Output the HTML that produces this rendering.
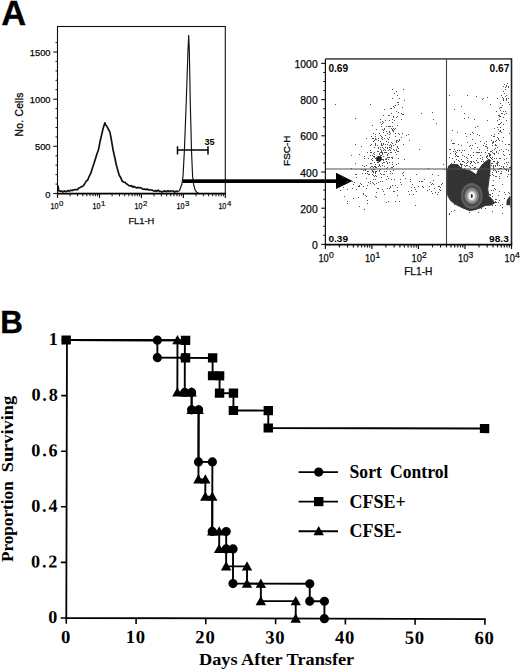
<!DOCTYPE html>
<html><head><meta charset="utf-8"><title>Figure</title>
<style>html,body{margin:0;padding:0;background:#fff;}body{width:520px;height:670px;overflow:hidden;font-family:"Liberation Sans",sans-serif;}svg{display:block;}</style></head>
<body>
<svg width="520" height="670" viewBox="0 0 520 670">
<rect width="520" height="670" fill="#fff"/>
<text x="1.3" y="25" font-family="Liberation Sans, sans-serif" font-weight="bold" font-size="34.5" stroke="#000" stroke-width="0.3">A</text>
<text x="0.2" y="332.9" font-family="Liberation Sans, sans-serif" font-weight="bold" font-size="31" textLength="22.6" lengthAdjust="spacingAndGlyphs" stroke="#000" stroke-width="0.4">B</text>
<rect x="57.5" y="26.5" width="167.8" height="167.0" fill="none" stroke="#111" stroke-width="1.1"/>
<path d="M57.0 193.7H225.8" stroke="#000" stroke-width="1.7" fill="none"/>
<line x1="53.3" y1="193.5" x2="57.5" y2="193.5" stroke="#111" stroke-width="1.1"/>
<text x="50.5" y="198.3" text-anchor="end" font-family="Liberation Sans, sans-serif" font-size="9.3" stroke="#111" stroke-width="0.25">0</text>
<line x1="53.3" y1="146.3" x2="57.5" y2="146.3" stroke="#111" stroke-width="1.1"/>
<text x="50.5" y="150.4" text-anchor="end" font-family="Liberation Sans, sans-serif" font-size="9.3" stroke="#111" stroke-width="0.25">500</text>
<line x1="53.3" y1="99.2" x2="57.5" y2="99.2" stroke="#111" stroke-width="1.1"/>
<text x="50.5" y="103.3" text-anchor="end" font-family="Liberation Sans, sans-serif" font-size="9.3" stroke="#111" stroke-width="0.25">1000</text>
<line x1="53.3" y1="52.0" x2="57.5" y2="52.0" stroke="#111" stroke-width="1.1"/>
<text x="50.5" y="56.1" text-anchor="end" font-family="Liberation Sans, sans-serif" font-size="9.3" stroke="#111" stroke-width="0.25">1500</text>
<line x1="55.5" y1="184.1" x2="57.5" y2="184.1" stroke="#111" stroke-width="1.0"/>
<line x1="55.5" y1="174.6" x2="57.5" y2="174.6" stroke="#111" stroke-width="1.0"/>
<line x1="55.5" y1="165.2" x2="57.5" y2="165.2" stroke="#111" stroke-width="1.0"/>
<line x1="55.5" y1="155.8" x2="57.5" y2="155.8" stroke="#111" stroke-width="1.0"/>
<line x1="55.5" y1="136.9" x2="57.5" y2="136.9" stroke="#111" stroke-width="1.0"/>
<line x1="55.5" y1="127.5" x2="57.5" y2="127.5" stroke="#111" stroke-width="1.0"/>
<line x1="55.5" y1="118.0" x2="57.5" y2="118.0" stroke="#111" stroke-width="1.0"/>
<line x1="55.5" y1="108.6" x2="57.5" y2="108.6" stroke="#111" stroke-width="1.0"/>
<line x1="55.5" y1="89.7" x2="57.5" y2="89.7" stroke="#111" stroke-width="1.0"/>
<line x1="55.5" y1="80.3" x2="57.5" y2="80.3" stroke="#111" stroke-width="1.0"/>
<line x1="55.5" y1="70.9" x2="57.5" y2="70.9" stroke="#111" stroke-width="1.0"/>
<line x1="55.5" y1="61.4" x2="57.5" y2="61.4" stroke="#111" stroke-width="1.0"/>
<line x1="55.5" y1="42.6" x2="57.5" y2="42.6" stroke="#111" stroke-width="1.0"/>
<line x1="57.5" y1="193.5" x2="57.5" y2="197.9" stroke="#111" stroke-width="1.2"/>
<text x="58.5" y="209.3" text-anchor="end" font-family="Liberation Sans, sans-serif" font-size="9.7" stroke="#111" stroke-width="0.25" textLength="7.9" lengthAdjust="spacingAndGlyphs">10</text>
<text x="59.1" y="206.1" font-family="Liberation Sans, sans-serif" font-size="7.9" stroke="#111" stroke-width="0.2">0</text>
<line x1="70.1" y1="193.5" x2="70.1" y2="196.3" stroke="#111" stroke-width="1.0"/>
<line x1="77.5" y1="193.5" x2="77.5" y2="196.3" stroke="#111" stroke-width="1.0"/>
<line x1="82.8" y1="193.5" x2="82.8" y2="196.3" stroke="#111" stroke-width="1.0"/>
<line x1="86.8" y1="193.5" x2="86.8" y2="196.3" stroke="#111" stroke-width="1.0"/>
<line x1="90.1" y1="193.5" x2="90.1" y2="196.3" stroke="#111" stroke-width="1.0"/>
<line x1="93.0" y1="193.5" x2="93.0" y2="196.3" stroke="#111" stroke-width="1.0"/>
<line x1="95.4" y1="193.5" x2="95.4" y2="196.3" stroke="#111" stroke-width="1.0"/>
<line x1="97.5" y1="193.5" x2="97.5" y2="196.3" stroke="#111" stroke-width="1.0"/>
<line x1="99.5" y1="193.5" x2="99.5" y2="197.9" stroke="#111" stroke-width="1.2"/>
<text x="100.5" y="209.3" text-anchor="end" font-family="Liberation Sans, sans-serif" font-size="9.7" stroke="#111" stroke-width="0.25" textLength="7.9" lengthAdjust="spacingAndGlyphs">10</text>
<text x="101.0" y="206.1" font-family="Liberation Sans, sans-serif" font-size="7.9" stroke="#111" stroke-width="0.2">1</text>
<line x1="112.1" y1="193.5" x2="112.1" y2="196.3" stroke="#111" stroke-width="1.0"/>
<line x1="119.5" y1="193.5" x2="119.5" y2="196.3" stroke="#111" stroke-width="1.0"/>
<line x1="124.7" y1="193.5" x2="124.7" y2="196.3" stroke="#111" stroke-width="1.0"/>
<line x1="128.8" y1="193.5" x2="128.8" y2="196.3" stroke="#111" stroke-width="1.0"/>
<line x1="132.1" y1="193.5" x2="132.1" y2="196.3" stroke="#111" stroke-width="1.0"/>
<line x1="134.9" y1="193.5" x2="134.9" y2="196.3" stroke="#111" stroke-width="1.0"/>
<line x1="137.3" y1="193.5" x2="137.3" y2="196.3" stroke="#111" stroke-width="1.0"/>
<line x1="139.5" y1="193.5" x2="139.5" y2="196.3" stroke="#111" stroke-width="1.0"/>
<line x1="141.4" y1="193.5" x2="141.4" y2="197.9" stroke="#111" stroke-width="1.2"/>
<text x="142.4" y="209.3" text-anchor="end" font-family="Liberation Sans, sans-serif" font-size="9.7" stroke="#111" stroke-width="0.25" textLength="7.9" lengthAdjust="spacingAndGlyphs">10</text>
<text x="143.0" y="206.1" font-family="Liberation Sans, sans-serif" font-size="7.9" stroke="#111" stroke-width="0.2">2</text>
<line x1="154.0" y1="193.5" x2="154.0" y2="196.3" stroke="#111" stroke-width="1.0"/>
<line x1="161.4" y1="193.5" x2="161.4" y2="196.3" stroke="#111" stroke-width="1.0"/>
<line x1="166.7" y1="193.5" x2="166.7" y2="196.3" stroke="#111" stroke-width="1.0"/>
<line x1="170.7" y1="193.5" x2="170.7" y2="196.3" stroke="#111" stroke-width="1.0"/>
<line x1="174.0" y1="193.5" x2="174.0" y2="196.3" stroke="#111" stroke-width="1.0"/>
<line x1="176.9" y1="193.5" x2="176.9" y2="196.3" stroke="#111" stroke-width="1.0"/>
<line x1="179.3" y1="193.5" x2="179.3" y2="196.3" stroke="#111" stroke-width="1.0"/>
<line x1="181.4" y1="193.5" x2="181.4" y2="196.3" stroke="#111" stroke-width="1.0"/>
<line x1="183.4" y1="193.5" x2="183.4" y2="197.9" stroke="#111" stroke-width="1.2"/>
<text x="184.4" y="209.3" text-anchor="end" font-family="Liberation Sans, sans-serif" font-size="9.7" stroke="#111" stroke-width="0.25" textLength="7.9" lengthAdjust="spacingAndGlyphs">10</text>
<text x="185.0" y="206.1" font-family="Liberation Sans, sans-serif" font-size="7.9" stroke="#111" stroke-width="0.2">3</text>
<line x1="196.0" y1="193.5" x2="196.0" y2="196.3" stroke="#111" stroke-width="1.0"/>
<line x1="203.4" y1="193.5" x2="203.4" y2="196.3" stroke="#111" stroke-width="1.0"/>
<line x1="208.6" y1="193.5" x2="208.6" y2="196.3" stroke="#111" stroke-width="1.0"/>
<line x1="212.7" y1="193.5" x2="212.7" y2="196.3" stroke="#111" stroke-width="1.0"/>
<line x1="216.0" y1="193.5" x2="216.0" y2="196.3" stroke="#111" stroke-width="1.0"/>
<line x1="218.8" y1="193.5" x2="218.8" y2="196.3" stroke="#111" stroke-width="1.0"/>
<line x1="221.2" y1="193.5" x2="221.2" y2="196.3" stroke="#111" stroke-width="1.0"/>
<line x1="223.4" y1="193.5" x2="223.4" y2="196.3" stroke="#111" stroke-width="1.0"/>
<line x1="225.3" y1="193.5" x2="225.3" y2="197.9" stroke="#111" stroke-width="1.2"/>
<text x="226.3" y="209.3" text-anchor="end" font-family="Liberation Sans, sans-serif" font-size="9.7" stroke="#111" stroke-width="0.25" textLength="7.9" lengthAdjust="spacingAndGlyphs">10</text>
<text x="226.9" y="206.1" font-family="Liberation Sans, sans-serif" font-size="7.9" stroke="#111" stroke-width="0.2">4</text>
<text x="141.3" y="223.9" text-anchor="middle" font-family="Liberation Sans, sans-serif" font-size="9.3" stroke="#111" stroke-width="0.25">FL1-H</text>
<text transform="translate(23.1,136.5) rotate(-90)" font-family="Liberation Sans, sans-serif" font-size="10.3" stroke="#111" stroke-width="0.3" textLength="43.9" lengthAdjust="spacing">No. Cells</text>
<polyline fill="none" stroke="#111" stroke-width="1.7" stroke-linejoin="round" points="58.0,185.5 58.8,191.0 60.4,191.1 62.0,191.2 63.2,191.9 64.4,190.9 65.6,191.6 66.8,191.2 68.0,190.6 69.4,191.1 70.8,190.2 72.2,190.6 73.6,189.8 75.0,189.6 76.2,189.6 77.5,189.7 78.8,188.0 80.0,187.6 81.5,186.8 83.1,185.9 84.6,183.9 86.1,181.4 87.7,180.0 89.2,176.3 90.7,173.4 92.3,168.4 93.8,164.0 95.4,158.9 96.9,154.0 98.5,149.7 100.0,141.8 101.5,135.5 103.0,128.7 104.9,122.8 106.0,125.1 107.7,127.8 110.0,132.3 111.5,140.6 113.0,149.5 114.6,156.8 116.2,164.3 117.7,170.1 119.2,175.3 120.8,177.8 122.3,181.3 123.7,182.1 125.0,182.3 126.3,183.8 127.7,184.6 129.0,185.7 130.3,185.9 131.6,185.7 132.8,187.2 134.1,186.3 135.4,187.3 136.7,188.0 138.0,187.3 139.3,188.0 140.7,187.5 142.0,188.7 143.3,189.1 144.6,189.0 145.8,189.7 147.1,189.0 148.3,189.8 149.6,189.8 150.8,190.0 152.0,190.0 153.3,190.8 154.5,191.1 155.8,190.6 157.0,191.1 158.2,190.2 159.4,191.3 160.7,191.3 161.9,191.9 163.1,191.7 164.3,190.9 165.6,191.2 166.8,191.7 168.0,190.7 169.3,191.5 170.7,191.1 172.0,191.0 173.3,191.0 174.7,192.2 176.0,191.2 178.0,191.6"/>
<polyline fill="none" stroke="#111" stroke-width="1.15" stroke-linejoin="round" points="178.0,191.6 179.5,190.5 181.8,184.3 183.0,176.5 184.4,150.4 186.2,103.3 188.0,50.0 188.7,35.4 189.3,50.0 190.3,103.3 191.5,150.4 192.6,176.5 193.6,184.3 195.2,190.2 197.0,192.6 198.5,193.2"/>
<path d="M177.5 149.9H208M177.5 146.2V154.6M208 146.2V154.6" stroke="#000" stroke-width="1.5" fill="none"/>
<text x="204.4" y="145.1" font-family="Liberation Sans, sans-serif" font-weight="bold" font-size="9.1">35</text>
<rect x="182.6" y="179.3" width="155" height="3.7" fill="#000"/>
<polygon points="336,172.8 352.6,180.9 336,189" fill="#000"/>
<path d="M390 152h1v1h-1zM376 160h1v1h-1zM394 120h1v1h-1zM356 189h1v1h-1zM371 166h1v1h-1zM392 130h1v1h-1zM347 203h1v1h-1zM383 162h1v1h-1zM387 154h1v1h-1zM393 116h1v1h-1zM382 152h1v1h-1zM392 129h1v1h-1zM396 91h1v1h-1zM374 140h1v1h-1zM383 122h1v1h-1zM379 171h1v1h-1zM399 98h1v1h-1zM386 126h1v1h-1zM377 159h1v1h-1zM389 145h1v1h-1zM383 160h1v1h-1zM375 173h1v1h-1zM384 152h1v1h-1zM377 162h1v1h-1zM389 157h1v1h-1zM392 126h1v1h-1zM371 169h1v1h-1zM390 173h1v1h-1zM382 189h1v1h-1zM377 151h1v1h-1zM388 153h1v1h-1zM375 167h1v1h-1zM367 203h1v1h-1zM391 157h1v1h-1zM391 142h1v1h-1zM386 179h1v1h-1zM398 158h1v1h-1zM381 145h1v1h-1zM383 132h1v1h-1zM379 164h1v1h-1zM392 119h1v1h-1zM391 128h1v1h-1zM388 201h1v1h-1zM389 147h1v1h-1zM395 105h1v1h-1zM379 133h1v1h-1zM384 149h1v1h-1zM379 153h1v1h-1zM365 173h1v1h-1zM392 89h1v1h-1zM402 173h1v1h-1zM378 147h1v1h-1zM378 166h1v1h-1zM379 170h1v1h-1zM387 188h1v1h-1zM380 122h1v1h-1zM381 157h1v1h-1zM373 141h1v1h-1zM398 102h1v1h-1zM391 108h1v1h-1zM382 154h1v1h-1zM395 128h1v1h-1zM393 130h1v1h-1zM363 193h1v1h-1zM383 159h1v1h-1zM390 186h1v1h-1zM374 157h1v1h-1zM343 187h1v1h-1zM378 138h1v1h-1zM384 138h1v1h-1zM372 158h1v1h-1zM397 125h1v1h-1zM397 140h1v1h-1zM393 116h1v1h-1zM373 172h1v1h-1zM368 171h1v1h-1zM380 141h1v1h-1zM386 159h1v1h-1zM373 138h1v1h-1zM386 161h1v1h-1zM395 136h1v1h-1zM375 136h1v1h-1zM393 145h1v1h-1zM380 155h1v1h-1zM382 154h1v1h-1zM371 136h1v1h-1zM371 159h1v1h-1zM371 144h1v1h-1zM383 148h1v1h-1zM378 140h1v1h-1zM381 144h1v1h-1zM353 198h1v1h-1zM383 150h1v1h-1zM394 93h1v1h-1zM366 165h1v1h-1zM378 151h1v1h-1zM381 124h1v1h-1zM397 146h1v1h-1zM401 137h1v1h-1zM394 107h1v1h-1zM390 187h1v1h-1zM389 134h1v1h-1zM374 162h1v1h-1zM380 156h1v1h-1zM370 163h1v1h-1zM396 111h1v1h-1zM381 143h1v1h-1zM401 113h1v1h-1zM375 196h1v1h-1zM391 148h1v1h-1zM355 144h1v1h-1zM382 159h1v1h-1zM375 138h1v1h-1zM374 166h1v1h-1zM370 167h1v1h-1zM383 191h1v1h-1zM378 156h1v1h-1zM374 154h1v1h-1zM367 185h1v1h-1zM398 151h1v1h-1zM387 148h1v1h-1zM381 150h1v1h-1zM380 160h1v1h-1zM393 131h1v1h-1zM392 173h1v1h-1zM389 126h1v1h-1zM387 167h1v1h-1zM385 135h1v1h-1zM398 141h1v1h-1zM373 167h1v1h-1zM392 157h1v1h-1zM387 138h1v1h-1zM386 141h1v1h-1zM390 144h1v1h-1zM382 129h1v1h-1zM380 181h1v1h-1zM392 143h1v1h-1zM374 176h1v1h-1zM379 165h1v1h-1zM381 159h1v1h-1zM368 174h1v1h-1zM365 195h1v1h-1zM376 183h1v1h-1zM383 174h1v1h-1zM396 154h1v1h-1zM374 156h1v1h-1zM361 146h1v1h-1zM392 162h1v1h-1zM360 183h1v1h-1zM382 165h1v1h-1zM376 129h1v1h-1zM390 150h1v1h-1zM389 149h1v1h-1zM388 115h1v1h-1zM386 131h1v1h-1zM381 159h1v1h-1zM378 160h1v1h-1zM389 131h1v1h-1zM389 162h1v1h-1zM393 106h1v1h-1zM387 133h1v1h-1zM368 174h1v1h-1zM373 156h1v1h-1zM404 159h1v1h-1zM380 135h1v1h-1zM391 146h1v1h-1zM382 147h1v1h-1zM373 153h1v1h-1zM367 173h1v1h-1zM380 152h1v1h-1zM381 152h1v1h-1zM375 164h1v1h-1zM388 157h1v1h-1zM381 155h1v1h-1zM352 188h1v1h-1zM375 144h1v1h-1zM397 116h1v1h-1zM375 134h1v1h-1zM388 178h1v1h-1zM380 147h1v1h-1zM352 181h1v1h-1zM382 121h1v1h-1zM375 158h1v1h-1zM389 120h1v1h-1zM356 177h1v1h-1zM365 169h1v1h-1zM361 184h1v1h-1zM377 145h1v1h-1zM378 166h1v1h-1zM387 144h1v1h-1zM365 170h1v1h-1zM381 126h1v1h-1zM375 139h1v1h-1zM367 200h1v1h-1zM370 152h1v1h-1zM391 113h1v1h-1zM376 192h1v1h-1zM385 152h1v1h-1zM398 148h1v1h-1zM392 164h1v1h-1zM370 183h1v1h-1zM394 129h1v1h-1zM373 133h1v1h-1zM382 123h1v1h-1zM379 165h1v1h-1zM397 151h1v1h-1zM396 140h1v1h-1zM378 162h1v1h-1zM397 147h1v1h-1zM372 138h1v1h-1zM395 144h1v1h-1zM392 122h1v1h-1zM384 194h1v1h-1zM403 175h1v1h-1zM379 157h1v1h-1zM398 104h1v1h-1zM370 181h1v1h-1zM388 150h1v1h-1zM374 169h1v1h-1zM382 139h1v1h-1zM396 142h1v1h-1zM347 189h1v1h-1zM380 149h1v1h-1zM395 133h1v1h-1zM387 133h1v1h-1zM371 152h1v1h-1zM379 154h1v1h-1zM372 166h1v1h-1zM375 172h1v1h-1zM381 151h1v1h-1zM404 100h1v1h-1zM363 194h1v1h-1zM397 95h1v1h-1zM342 177h1v1h-1zM383 130h1v1h-1zM390 133h1v1h-1zM379 164h1v1h-1zM371 163h1v1h-1zM372 171h1v1h-1zM393 149h1v1h-1zM387 162h1v1h-1zM359 206h1v1h-1zM364 166h1v1h-1zM380 119h1v1h-1zM399 139h1v1h-1zM362 165h1v1h-1zM372 166h1v1h-1zM406 135h1v1h-1zM384 171h1v1h-1zM369 174h1v1h-1zM373 171h1v1h-1zM396 149h1v1h-1zM396 141h1v1h-1zM388 139h1v1h-1zM384 162h1v1h-1zM366 178h1v1h-1zM398 163h1v1h-1zM372 182h1v1h-1zM382 163h1v1h-1zM380 173h1v1h-1zM380 169h1v1h-1zM394 150h1v1h-1zM359 186h1v1h-1zM393 128h1v1h-1zM388 126h1v1h-1zM385 147h1v1h-1zM409 140h1v1h-1zM384 174h1v1h-1zM383 115h1v1h-1zM387 157h1v1h-1zM391 152h1v1h-1zM403 89h1v1h-1zM353 184h1v1h-1zM379 159h1v1h-1zM366 138h1v1h-1zM393 117h1v1h-1zM373 179h1v1h-1zM358 197h1v1h-1zM344 196h1v1h-1zM386 152h1v1h-1zM386 171h1v1h-1zM372 125h1v1h-1zM370 145h1v1h-1zM370 155h1v1h-1zM382 145h1v1h-1zM373 156h1v1h-1zM363 186h1v1h-1zM387 147h1v1h-1zM395 152h1v1h-1zM378 148h1v1h-1zM378 182h1v1h-1zM384 129h1v1h-1zM392 158h1v1h-1zM375 175h1v1h-1zM364 169h1v1h-1zM390 108h1v1h-1zM381 155h1v1h-1zM375 145h1v1h-1zM373 183h1v1h-1zM376 139h1v1h-1zM396 150h1v1h-1zM373 169h1v1h-1zM376 176h1v1h-1zM397 116h1v1h-1zM392 167h1v1h-1zM370 150h1v1h-1zM403 172h1v1h-1zM402 133h1v1h-1zM387 154h1v1h-1zM373 153h1v1h-1zM368 182h1v1h-1zM385 159h1v1h-1zM396 117h1v1h-1zM375 166h1v1h-1zM389 137h1v1h-1zM376 167h1v1h-1zM379 161h1v1h-1zM402 107h1v1h-1zM359 185h1v1h-1zM378 151h1v1h-1zM391 167h1v1h-1zM399 134h1v1h-1zM372 160h1v1h-1zM372 170h1v1h-1zM384 166h1v1h-1zM367 152h1v1h-1zM386 202h1v1h-1zM388 159h1v1h-1zM356 174h1v1h-1zM385 144h1v1h-1zM390 126h1v1h-1zM373 167h1v1h-1zM403 114h1v1h-1zM375 179h1v1h-1zM361 169h1v1h-1zM380 159h1v1h-1zM373 175h1v1h-1zM376 197h1v1h-1zM382 137h1v1h-1zM381 136h1v1h-1zM374 147h1v1h-1zM382 152h1v1h-1zM359 154h1v1h-1zM384 109h1v1h-1zM376 171h1v1h-1zM387 163h1v1h-1zM383 144h1v1h-1zM347 181h1v1h-1zM387 155h1v1h-1zM366 196h1v1h-1zM397 102h1v1h-1zM389 115h1v1h-1zM362 173h1v1h-1zM377 188h1v1h-1zM379 161h1v1h-1zM389 132h1v1h-1zM372 155h1v1h-1zM403 144h1v1h-1zM391 145h1v1h-1zM385 150h1v1h-1zM364 158h1v1h-1zM374 152h1v1h-1zM368 158h1v1h-1zM367 171h1v1h-1zM398 112h1v1h-1zM401 119h1v1h-1zM366 188h1v1h-1zM358 186h1v1h-1zM374 184h1v1h-1zM375 171h1v1h-1zM386 168h1v1h-1zM384 128h1v1h-1zM387 176h1v1h-1zM383 150h1v1h-1zM347 201h1v1h-1zM381 177h1v1h-1zM355 174h1v1h-1zM378 159h1v1h-1zM387 148h1v1h-1zM400 179h1v1h-1zM392 98h1v1h-1zM402 114h1v1h-1zM389 132h1v1h-1zM355 163h1v1h-1zM382 181h1v1h-1zM381 138h1v1h-1zM388 142h1v1h-1zM386 158h1v1h-1zM385 120h1v1h-1zM382 153h1v1h-1zM398 133h1v1h-1zM386 161h1v1h-1zM393 166h1v1h-1zM383 143h1v1h-1zM381 174h1v1h-1zM389 115h1v1h-1zM380 166h1v1h-1zM375 143h1v1h-1zM390 147h1v1h-1zM372 174h1v1h-1zM419 181h1v1h-1zM435 192h1v1h-1zM442 183h1v1h-1zM427 190h1v1h-1zM399 201h1v1h-1zM411 187h1v1h-1zM432 174h1v1h-1zM413 194h1v1h-1zM397 195h1v1h-1zM423 187h1v1h-1zM437 194h1v1h-1zM408 191h1v1h-1zM415 189h1v1h-1zM416 191h1v1h-1zM438 192h1v1h-1zM431 191h1v1h-1zM440 187h1v1h-1zM439 189h1v1h-1zM441 184h1v1h-1zM438 186h1v1h-1zM409 194h1v1h-1zM433 180h1v1h-1zM397 187h1v1h-1zM410 181h1v1h-1zM434 188h1v1h-1zM400 182h1v1h-1zM410 179h1v1h-1zM395 185h1v1h-1zM401 184h1v1h-1zM390 171h1v1h-1zM418 186h1v1h-1zM433 184h1v1h-1zM394 179h1v1h-1zM422 181h1v1h-1zM405 178h1v1h-1zM411 190h1v1h-1zM424 179h1v1h-1zM389 188h1v1h-1zM421 181h1v1h-1zM429 186h1v1h-1zM430 182h1v1h-1zM414 187h1v1h-1zM394 191h1v1h-1zM393 191h1v1h-1zM412 184h1v1h-1zM422 186h1v1h-1zM392 185h1v1h-1zM416 174h1v1h-1zM391 179h1v1h-1zM439 186h1v1h-1zM395 201h1v1h-1zM428 168h1v1h-1zM432 193h1v1h-1zM415 205h1v1h-1zM440 190h1v1h-1zM431 184h1v1h-1zM438 192h1v1h-1zM429 189h1v1h-1zM397 190h1v1h-1zM432 183h1v1h-1zM351 155h1v1h-1zM436 123h1v1h-1zM364 156h1v1h-1zM370 104h1v1h-1zM355 118h1v1h-1zM438 175h1v1h-1zM433 119h1v1h-1zM421 113h1v1h-1zM393 170h1v1h-1zM375 196h1v1h-1zM396 164h1v1h-1zM432 112h1v1h-1zM444 169h1v1h-1zM378 188h1v1h-1zM364 209h1v1h-1zM399 140h1v1h-1zM419 149h1v1h-1zM354 182h1v1h-1zM340 190h1v1h-1zM363 170h1v1h-1zM443 164h1v1h-1zM408 134h1v1h-1zM335 104h1v1h-1zM351 168h1v1h-1zM383 156h1v1h-1zM504 163h1v1h-1zM488 163h1v1h-1zM449 157h1v1h-1zM455 170h1v1h-1zM470 167h1v1h-1zM485 152h1v1h-1zM461 159h1v1h-1zM456 159h1v1h-1zM506 170h1v1h-1zM454 162h1v1h-1zM488 153h1v1h-1zM473 152h1v1h-1zM464 150h1v1h-1zM483 169h1v1h-1zM470 161h1v1h-1zM506 158h1v1h-1zM493 170h1v1h-1zM451 140h1v1h-1zM481 161h1v1h-1zM452 164h1v1h-1zM496 152h1v1h-1zM506 169h1v1h-1zM457 164h1v1h-1zM479 152h1v1h-1zM488 167h1v1h-1zM467 162h1v1h-1zM467 142h1v1h-1zM497 161h1v1h-1zM492 143h1v1h-1zM494 169h1v1h-1zM477 169h1v1h-1zM462 155h1v1h-1zM455 170h1v1h-1zM469 166h1v1h-1zM494 161h1v1h-1zM492 145h1v1h-1zM464 156h1v1h-1zM497 165h1v1h-1zM480 168h1v1h-1zM508 150h1v1h-1zM461 168h1v1h-1zM464 168h1v1h-1zM463 169h1v1h-1zM494 136h1v1h-1zM468 161h1v1h-1zM463 161h1v1h-1zM504 155h1v1h-1zM489 154h1v1h-1zM509 144h1v1h-1zM491 165h1v1h-1zM501 149h1v1h-1zM483 161h1v1h-1zM467 165h1v1h-1zM453 151h1v1h-1zM504 168h1v1h-1zM455 167h1v1h-1zM506 166h1v1h-1zM450 164h1v1h-1zM451 163h1v1h-1zM491 151h1v1h-1zM494 153h1v1h-1zM471 162h1v1h-1zM499 158h1v1h-1zM452 143h1v1h-1zM502 141h1v1h-1zM455 153h1v1h-1zM461 167h1v1h-1zM501 168h1v1h-1zM498 153h1v1h-1zM487 150h1v1h-1zM466 165h1v1h-1zM495 166h1v1h-1zM461 164h1v1h-1zM449 157h1v1h-1zM464 165h1v1h-1zM471 148h1v1h-1zM468 154h1v1h-1zM501 166h1v1h-1zM486 156h1v1h-1zM475 167h1v1h-1zM496 158h1v1h-1zM481 152h1v1h-1zM461 166h1v1h-1zM499 165h1v1h-1zM459 161h1v1h-1zM495 170h1v1h-1zM509 154h1v1h-1zM478 170h1v1h-1zM497 163h1v1h-1zM470 155h1v1h-1zM500 168h1v1h-1zM466 136h1v1h-1zM461 165h1v1h-1zM455 154h1v1h-1zM487 148h1v1h-1zM491 158h1v1h-1zM497 161h1v1h-1zM473 161h1v1h-1zM472 165h1v1h-1zM503 166h1v1h-1zM450 167h1v1h-1zM504 159h1v1h-1zM479 149h1v1h-1zM462 150h1v1h-1zM477 147h1v1h-1zM495 165h1v1h-1zM488 163h1v1h-1zM458 160h1v1h-1zM500 158h1v1h-1zM459 150h1v1h-1zM475 167h1v1h-1zM456 152h1v1h-1zM477 162h1v1h-1zM460 163h1v1h-1zM467 162h1v1h-1zM458 144h1v1h-1zM458 170h1v1h-1zM480 158h1v1h-1zM458 166h1v1h-1zM508 162h1v1h-1zM493 141h1v1h-1zM454 149h1v1h-1zM472 145h1v1h-1zM493 167h1v1h-1zM475 163h1v1h-1zM455 151h1v1h-1zM461 167h1v1h-1zM473 168h1v1h-1zM497 164h1v1h-1zM487 155h1v1h-1zM477 158h1v1h-1zM473 155h1v1h-1zM494 158h1v1h-1zM484 162h1v1h-1zM494 161h1v1h-1zM493 165h1v1h-1zM503 167h1v1h-1zM501 149h1v1h-1zM490 160h1v1h-1zM467 158h1v1h-1zM487 158h1v1h-1zM497 162h1v1h-1zM492 163h1v1h-1zM474 162h1v1h-1zM476 160h1v1h-1zM490 160h1v1h-1zM506 162h1v1h-1zM496 151h1v1h-1zM472 132h1v1h-1zM450 168h1v1h-1zM482 157h1v1h-1zM506 149h1v1h-1zM480 155h1v1h-1zM482 159h1v1h-1zM492 150h1v1h-1zM499 168h1v1h-1zM480 141h1v1h-1zM461 152h1v1h-1zM490 151h1v1h-1zM456 155h1v1h-1zM509 167h1v1h-1zM465 166h1v1h-1zM473 155h1v1h-1zM474 169h1v1h-1zM491 163h1v1h-1zM462 161h1v1h-1zM494 154h1v1h-1zM462 164h1v1h-1zM498 162h1v1h-1zM456 164h1v1h-1zM496 163h1v1h-1zM477 152h1v1h-1zM483 165h1v1h-1zM470 134h1v1h-1zM488 159h1v1h-1zM477 147h1v1h-1zM466 163h1v1h-1zM500 168h1v1h-1zM470 163h1v1h-1zM471 161h1v1h-1zM464 162h1v1h-1zM448 166h1v1h-1zM493 168h1v1h-1zM467 160h1v1h-1zM478 152h1v1h-1zM489 161h1v1h-1zM470 145h1v1h-1zM452 158h1v1h-1zM499 150h1v1h-1zM457 156h1v1h-1zM500 168h1v1h-1zM449 168h1v1h-1zM507 164h1v1h-1zM454 161h1v1h-1zM457 168h1v1h-1zM469 146h1v1h-1zM457 150h1v1h-1zM458 156h1v1h-1zM503 151h1v1h-1zM489 155h1v1h-1zM503 154h1v1h-1zM500 110h1v1h-1zM491 135h1v1h-1zM494 128h1v1h-1zM503 137h1v1h-1zM464 113h1v1h-1zM457 132h1v1h-1zM452 130h1v1h-1zM457 132h1v1h-1zM479 135h1v1h-1zM501 95h1v1h-1zM500 130h1v1h-1zM483 145h1v1h-1zM500 123h1v1h-1zM474 167h1v1h-1zM453 143h1v1h-1zM487 97h1v1h-1zM486 146h1v1h-1zM506 120h1v1h-1zM509 133h1v1h-1zM478 162h1v1h-1zM450 149h1v1h-1zM487 120h1v1h-1zM501 122h1v1h-1zM477 134h1v1h-1zM496 111h1v1h-1zM475 127h1v1h-1zM482 157h1v1h-1zM466 157h1v1h-1zM473 133h1v1h-1zM465 133h1v1h-1zM508 144h1v1h-1zM497 120h1v1h-1zM468 117h1v1h-1zM484 143h1v1h-1zM497 98h1v1h-1zM493 161h1v1h-1zM482 99h1v1h-1zM467 95h1v1h-1zM460 164h1v1h-1zM486 144h1v1h-1zM497 163h1v1h-1zM486 141h1v1h-1zM487 147h1v1h-1zM485 146h1v1h-1zM461 145h1v1h-1zM476 152h1v1h-1zM454 109h1v1h-1zM450 153h1v1h-1zM505 144h1v1h-1zM471 157h1v1h-1zM497 137h1v1h-1zM464 118h1v1h-1zM474 119h1v1h-1zM475 143h1v1h-1zM506 99h1v1h-1zM483 98h1v1h-1zM455 156h1v1h-1zM484 164h1v1h-1zM476 96h1v1h-1zM472 139h1v1h-1zM506 169h1v1h-1zM477 126h1v1h-1zM454 143h1v1h-1zM461 106h1v1h-1zM449 95h1v1h-1zM490 104h1v1h-1zM508 102h1v1h-1zM502 105h1v1h-1zM449 149h1v1h-1zM495 141h1v1h-1zM489 156h1v1h-1zM503 100h1v1h-1zM500 103h1v1h-1zM489 153h1v1h-1zM498 124h1v1h-1zM505 87h1v1h-1zM509 104h1v1h-1zM492 159h1v1h-1zM505 96h1v1h-1zM490 154h1v1h-1zM497 147h1v1h-1zM504 93h1v1h-1zM499 131h1v1h-1zM499 115h1v1h-1zM494 149h1v1h-1zM503 98h1v1h-1zM505 111h1v1h-1zM497 127h1v1h-1zM508 86h1v1h-1zM503 99h1v1h-1zM490 155h1v1h-1zM504 84h1v1h-1zM494 134h1v1h-1zM506 113h1v1h-1zM502 113h1v1h-1zM493 136h1v1h-1zM500 131h1v1h-1zM500 107h1v1h-1zM502 97h1v1h-1zM498 138h1v1h-1zM500 127h1v1h-1zM504 114h1v1h-1zM486 157h1v1h-1zM506 95h1v1h-1zM498 115h1v1h-1zM498 139h1v1h-1zM501 107h1v1h-1zM505 89h1v1h-1zM503 117h1v1h-1zM506 98h1v1h-1zM508 87h1v1h-1zM493 142h1v1h-1zM499 124h1v1h-1zM495 144h1v1h-1zM508 98h1v1h-1zM503 124h1v1h-1zM506 100h1v1h-1zM492 142h1v1h-1zM503 91h1v1h-1zM499 119h1v1h-1zM495 145h1v1h-1zM496 145h1v1h-1zM501 132h1v1h-1zM500 116h1v1h-1zM495 148h1v1h-1zM492 157h1v1h-1zM492 152h1v1h-1zM503 111h1v1h-1zM501 113h1v1h-1zM498 133h1v1h-1zM490 157h1v1h-1zM507 83h1v1h-1zM500 116h1v1h-1zM496 140h1v1h-1zM503 86h1v1h-1zM506 100h1v1h-1zM491 140h1v1h-1zM490 157h1v1h-1zM493 153h1v1h-1zM487 156h1v1h-1zM499 124h1v1h-1zM506 86h1v1h-1zM502 113h1v1h-1zM503 129h1v1h-1zM499 140h1v1h-1zM499 116h1v1h-1zM499 108h1v1h-1zM498 129h1v1h-1zM506 85h1v1h-1zM510 174h1v1h-1zM490 175h1v1h-1zM496 202h1v1h-1zM508 199h1v1h-1zM490 197h1v1h-1zM504 192h1v1h-1zM510 167h1v1h-1zM492 196h1v1h-1zM509 193h1v1h-1zM495 189h1v1h-1zM505 169h1v1h-1zM496 176h1v1h-1zM492 185h1v1h-1zM493 175h1v1h-1zM492 193h1v1h-1zM489 194h1v1h-1zM493 166h1v1h-1zM508 174h1v1h-1zM509 201h1v1h-1zM508 171h1v1h-1zM498 169h1v1h-1zM509 200h1v1h-1zM502 184h1v1h-1zM496 199h1v1h-1zM499 191h1v1h-1zM492 174h1v1h-1zM490 194h1v1h-1zM501 171h1v1h-1zM507 176h1v1h-1zM498 171h1v1h-1zM495 199h1v1h-1zM496 172h1v1h-1zM499 178h1v1h-1zM508 170h1v1h-1zM510 167h1v1h-1zM508 192h1v1h-1zM493 185h1v1h-1zM495 176h1v1h-1zM493 180h1v1h-1zM510 206h1v1h-1zM508 169h1v1h-1zM495 202h1v1h-1zM490 195h1v1h-1zM495 205h1v1h-1zM489 198h1v1h-1zM496 171h1v1h-1zM489 199h1v1h-1zM500 173h1v1h-1zM498 202h1v1h-1zM494 188h1v1h-1zM492 172h1v1h-1zM505 194h1v1h-1zM493 168h1v1h-1zM491 190h1v1h-1zM499 176h1v1h-1zM493 190h1v1h-1zM504 198h1v1h-1zM501 173h1v1h-1zM490 195h1v1h-1zM498 195h1v1h-1zM451 211h1v1h-1zM469 212h1v1h-1zM502 207h1v1h-1zM449 213h1v1h-1zM478 212h1v1h-1zM465 203h1v1h-1zM500 205h1v1h-1zM458 205h1v1h-1zM485 200h1v1h-1zM480 206h1v1h-1zM480 202h1v1h-1zM492 211h1v1h-1zM502 204h1v1h-1zM492 205h1v1h-1zM495 201h1v1h-1zM502 213h1v1h-1zM479 207h1v1h-1zM481 208h1v1h-1zM449 214h1v1h-1zM462 203h1v1h-1zM454 204h1v1h-1zM499 200h1v1h-1zM454 210h1v1h-1zM460 200h1v1h-1zM485 208h1v1h-1z" fill="#505050"/>
<circle cx="378.9" cy="158.7" r="2.8" fill="#222"/>
<polygon points="447.3,169.8 449.0,165.6 453.0,164.2 457.5,164.8 460.5,167.5 463.5,169.6 469.2,170.3 473.8,173.0 476.2,175.0 478.5,169.6 483.0,163.8 488.9,159.2 490.0,160.4 490.0,170.8 488.9,180.0 487.7,189.2 488.9,196.2 492.3,199.6 494.6,203.0 491.2,205.0 485.4,205.4 480.8,207.7 473.8,210.0 469.2,210.5 462.3,207.7 455.4,204.2 450.8,200.8 448.0,196.2 447.3,192.0" fill="#333" stroke="#333" stroke-width="1" stroke-linejoin="round"/>
<defs><filter id="bl" x="-20%" y="-20%" width="140%" height="140%"><feGaussianBlur stdDeviation="0.45"/></filter></defs>
<g filter="url(#bl)">
<ellipse cx="471.8" cy="195.9" rx="10.8" ry="13.0" fill="#5e5e5e"/>
<ellipse cx="471.8" cy="195.9" rx="9.0" ry="10.4" fill="#4a4a4a"/>
<ellipse cx="471.8" cy="195.9" rx="7.2" ry="8.4" fill="#7d7d7d"/>
<ellipse cx="471.8" cy="195.9" rx="5.0" ry="6.0" fill="#b5b5b5"/>
<ellipse cx="471.8" cy="195.9" rx="3.2" ry="4.0" fill="#f4f4f4"/>
<ellipse cx="471.8" cy="195.9" rx="0.9" ry="2.0" fill="#1a1a1a"/>
</g>
<path d="M509.6 196.2 Q505.6 200 506.6 205.3 L510.5 205.3 V196.2z" fill="#333"/>
<line x1="325.4" y1="169" x2="511.5" y2="169" stroke="#505050" stroke-width="1.2"/>
<line x1="446.5" y1="59.0" x2="446.5" y2="244.4" stroke="#444" stroke-width="1.1"/>
<path d="M325.4 58.9H511.5" stroke="#555" stroke-width="1.8" fill="none"/>
<path d="M511.5 58.2V244.4" stroke="#222" stroke-width="1.6" fill="none"/>
<path d="M325.4 59.0V244.4" stroke="#111" stroke-width="1.2" fill="none"/>
<path d="M324.8 244.6H512.3" stroke="#000" stroke-width="1.9" fill="none"/>
<line x1="321.2" y1="244.4" x2="325.4" y2="244.4" stroke="#111" stroke-width="1.1"/>
<text x="317.7" y="248.9" text-anchor="end" font-family="Liberation Sans, sans-serif" font-size="10.4" stroke="#111" stroke-width="0.25">0</text>
<line x1="321.2" y1="208.2" x2="325.4" y2="208.2" stroke="#111" stroke-width="1.1"/>
<text x="317.7" y="212.7" text-anchor="end" font-family="Liberation Sans, sans-serif" font-size="10.4" stroke="#111" stroke-width="0.25">200</text>
<line x1="321.2" y1="172.0" x2="325.4" y2="172.0" stroke="#111" stroke-width="1.1"/>
<text x="317.7" y="176.5" text-anchor="end" font-family="Liberation Sans, sans-serif" font-size="10.4" stroke="#111" stroke-width="0.25">400</text>
<line x1="321.2" y1="135.8" x2="325.4" y2="135.8" stroke="#111" stroke-width="1.1"/>
<text x="317.7" y="140.3" text-anchor="end" font-family="Liberation Sans, sans-serif" font-size="10.4" stroke="#111" stroke-width="0.25">600</text>
<line x1="321.2" y1="99.6" x2="325.4" y2="99.6" stroke="#111" stroke-width="1.1"/>
<text x="317.7" y="104.1" text-anchor="end" font-family="Liberation Sans, sans-serif" font-size="10.4" stroke="#111" stroke-width="0.25">800</text>
<line x1="321.2" y1="63.4" x2="325.4" y2="63.4" stroke="#111" stroke-width="1.1"/>
<text x="317.7" y="67.9" text-anchor="end" font-family="Liberation Sans, sans-serif" font-size="10.4" stroke="#111" stroke-width="0.25">1000</text>
<line x1="323.3" y1="235.3" x2="325.4" y2="235.3" stroke="#111" stroke-width="1.0"/>
<line x1="323.3" y1="226.3" x2="325.4" y2="226.3" stroke="#111" stroke-width="1.0"/>
<line x1="323.3" y1="217.2" x2="325.4" y2="217.2" stroke="#111" stroke-width="1.0"/>
<line x1="323.3" y1="199.2" x2="325.4" y2="199.2" stroke="#111" stroke-width="1.0"/>
<line x1="323.3" y1="190.1" x2="325.4" y2="190.1" stroke="#111" stroke-width="1.0"/>
<line x1="323.3" y1="181.1" x2="325.4" y2="181.1" stroke="#111" stroke-width="1.0"/>
<line x1="323.3" y1="162.9" x2="325.4" y2="162.9" stroke="#111" stroke-width="1.0"/>
<line x1="323.3" y1="153.9" x2="325.4" y2="153.9" stroke="#111" stroke-width="1.0"/>
<line x1="323.3" y1="144.9" x2="325.4" y2="144.9" stroke="#111" stroke-width="1.0"/>
<line x1="323.3" y1="126.8" x2="325.4" y2="126.8" stroke="#111" stroke-width="1.0"/>
<line x1="323.3" y1="117.7" x2="325.4" y2="117.7" stroke="#111" stroke-width="1.0"/>
<line x1="323.3" y1="108.7" x2="325.4" y2="108.7" stroke="#111" stroke-width="1.0"/>
<line x1="323.3" y1="90.6" x2="325.4" y2="90.6" stroke="#111" stroke-width="1.0"/>
<line x1="323.3" y1="81.5" x2="325.4" y2="81.5" stroke="#111" stroke-width="1.0"/>
<line x1="323.3" y1="72.5" x2="325.4" y2="72.5" stroke="#111" stroke-width="1.0"/>
<line x1="325.4" y1="244.4" x2="325.4" y2="249.0" stroke="#111" stroke-width="1.2"/>
<text x="328.7" y="261.9" text-anchor="end" font-family="Liberation Sans, sans-serif" font-size="10.6" stroke="#111" stroke-width="0.25" textLength="10.3" lengthAdjust="spacingAndGlyphs">10</text>
<text x="328.9" y="257.6" font-family="Liberation Sans, sans-serif" font-size="8.6" stroke="#111" stroke-width="0.2">0</text>
<line x1="339.4" y1="244.4" x2="339.4" y2="247.4" stroke="#111" stroke-width="1.1"/>
<line x1="347.6" y1="244.4" x2="347.6" y2="247.4" stroke="#111" stroke-width="1.1"/>
<line x1="353.4" y1="244.4" x2="353.4" y2="247.4" stroke="#111" stroke-width="1.1"/>
<line x1="357.9" y1="244.4" x2="357.9" y2="247.4" stroke="#111" stroke-width="1.1"/>
<line x1="361.6" y1="244.4" x2="361.6" y2="247.4" stroke="#111" stroke-width="1.1"/>
<line x1="364.7" y1="244.4" x2="364.7" y2="247.4" stroke="#111" stroke-width="1.1"/>
<line x1="367.4" y1="244.4" x2="367.4" y2="247.4" stroke="#111" stroke-width="1.1"/>
<line x1="369.8" y1="244.4" x2="369.8" y2="247.4" stroke="#111" stroke-width="1.1"/>
<line x1="371.9" y1="244.4" x2="371.9" y2="249.0" stroke="#111" stroke-width="1.2"/>
<text x="375.2" y="261.9" text-anchor="end" font-family="Liberation Sans, sans-serif" font-size="10.6" stroke="#111" stroke-width="0.25" textLength="10.3" lengthAdjust="spacingAndGlyphs">10</text>
<text x="375.4" y="257.6" font-family="Liberation Sans, sans-serif" font-size="8.6" stroke="#111" stroke-width="0.2">1</text>
<line x1="385.9" y1="244.4" x2="385.9" y2="247.4" stroke="#111" stroke-width="1.1"/>
<line x1="394.1" y1="244.4" x2="394.1" y2="247.4" stroke="#111" stroke-width="1.1"/>
<line x1="399.9" y1="244.4" x2="399.9" y2="247.4" stroke="#111" stroke-width="1.1"/>
<line x1="404.4" y1="244.4" x2="404.4" y2="247.4" stroke="#111" stroke-width="1.1"/>
<line x1="408.1" y1="244.4" x2="408.1" y2="247.4" stroke="#111" stroke-width="1.1"/>
<line x1="411.2" y1="244.4" x2="411.2" y2="247.4" stroke="#111" stroke-width="1.1"/>
<line x1="413.9" y1="244.4" x2="413.9" y2="247.4" stroke="#111" stroke-width="1.1"/>
<line x1="416.3" y1="244.4" x2="416.3" y2="247.4" stroke="#111" stroke-width="1.1"/>
<line x1="418.4" y1="244.4" x2="418.4" y2="249.0" stroke="#111" stroke-width="1.2"/>
<text x="421.8" y="261.9" text-anchor="end" font-family="Liberation Sans, sans-serif" font-size="10.6" stroke="#111" stroke-width="0.25" textLength="10.3" lengthAdjust="spacingAndGlyphs">10</text>
<text x="421.9" y="257.6" font-family="Liberation Sans, sans-serif" font-size="8.6" stroke="#111" stroke-width="0.2">2</text>
<line x1="432.5" y1="244.4" x2="432.5" y2="247.4" stroke="#111" stroke-width="1.1"/>
<line x1="440.6" y1="244.4" x2="440.6" y2="247.4" stroke="#111" stroke-width="1.1"/>
<line x1="446.5" y1="244.4" x2="446.5" y2="247.4" stroke="#111" stroke-width="1.1"/>
<line x1="451.0" y1="244.4" x2="451.0" y2="247.4" stroke="#111" stroke-width="1.1"/>
<line x1="454.7" y1="244.4" x2="454.7" y2="247.4" stroke="#111" stroke-width="1.1"/>
<line x1="457.8" y1="244.4" x2="457.8" y2="247.4" stroke="#111" stroke-width="1.1"/>
<line x1="460.5" y1="244.4" x2="460.5" y2="247.4" stroke="#111" stroke-width="1.1"/>
<line x1="462.8" y1="244.4" x2="462.8" y2="247.4" stroke="#111" stroke-width="1.1"/>
<line x1="465.0" y1="244.4" x2="465.0" y2="249.0" stroke="#111" stroke-width="1.2"/>
<text x="468.3" y="261.9" text-anchor="end" font-family="Liberation Sans, sans-serif" font-size="10.6" stroke="#111" stroke-width="0.25" textLength="10.3" lengthAdjust="spacingAndGlyphs">10</text>
<text x="468.5" y="257.6" font-family="Liberation Sans, sans-serif" font-size="8.6" stroke="#111" stroke-width="0.2">3</text>
<line x1="479.0" y1="244.4" x2="479.0" y2="247.4" stroke="#111" stroke-width="1.1"/>
<line x1="487.2" y1="244.4" x2="487.2" y2="247.4" stroke="#111" stroke-width="1.1"/>
<line x1="493.0" y1="244.4" x2="493.0" y2="247.4" stroke="#111" stroke-width="1.1"/>
<line x1="497.5" y1="244.4" x2="497.5" y2="247.4" stroke="#111" stroke-width="1.1"/>
<line x1="501.2" y1="244.4" x2="501.2" y2="247.4" stroke="#111" stroke-width="1.1"/>
<line x1="504.3" y1="244.4" x2="504.3" y2="247.4" stroke="#111" stroke-width="1.1"/>
<line x1="507.0" y1="244.4" x2="507.0" y2="247.4" stroke="#111" stroke-width="1.1"/>
<line x1="509.4" y1="244.4" x2="509.4" y2="247.4" stroke="#111" stroke-width="1.1"/>
<line x1="511.5" y1="244.4" x2="511.5" y2="249.0" stroke="#111" stroke-width="1.2"/>
<text x="514.8" y="261.9" text-anchor="end" font-family="Liberation Sans, sans-serif" font-size="10.6" stroke="#111" stroke-width="0.25" textLength="10.3" lengthAdjust="spacingAndGlyphs">10</text>
<text x="515.0" y="257.6" font-family="Liberation Sans, sans-serif" font-size="8.6" stroke="#111" stroke-width="0.2">4</text>
<text x="418.3" y="275" text-anchor="middle" font-family="Liberation Sans, sans-serif" font-size="10.2" stroke="#111" stroke-width="0.25">FL1-H</text>
<text transform="translate(290.0,165.9) rotate(-90)" font-family="Liberation Sans, sans-serif" font-size="9.9" stroke="#111" stroke-width="0.3" textLength="30.4" lengthAdjust="spacing">FSC-H</text>
<text x="328.4" y="71.7" text-anchor="start" font-family="Liberation Sans, sans-serif" font-weight="bold" font-size="10.2" textLength="19.7" lengthAdjust="spacingAndGlyphs">0.69</text>
<text x="509.3" y="72.0" text-anchor="end" font-family="Liberation Sans, sans-serif" font-weight="bold" font-size="10.2" textLength="19.7" lengthAdjust="spacingAndGlyphs">0.67</text>
<text x="328.4" y="241.8" text-anchor="start" font-family="Liberation Sans, sans-serif" font-weight="bold" font-size="8.9" textLength="19.7" lengthAdjust="spacingAndGlyphs">0.39</text>
<text x="508.8" y="241.9" text-anchor="end" font-family="Liberation Sans, sans-serif" font-weight="bold" font-size="8.9" textLength="19.7" lengthAdjust="spacingAndGlyphs">98.3</text>
<g transform="rotate(0.14 66.3 618)">
<path d="M66.3 340.0V618.0H484.9" stroke="#000" stroke-width="1.8" fill="none" stroke-linecap="square"/>
<line x1="60.7" y1="618.0" x2="66.3" y2="618.0" stroke="#000" stroke-width="1.6"/>
<text x="59.0" y="623.1" text-anchor="end" font-family="Liberation Serif, serif" font-weight="bold" font-size="18.1" letter-spacing="1.8">0</text>
<line x1="60.7" y1="562.4" x2="66.3" y2="562.4" stroke="#000" stroke-width="1.6"/>
<text x="59.0" y="567.5" text-anchor="end" font-family="Liberation Serif, serif" font-weight="bold" font-size="18.1" letter-spacing="1.8">0.2</text>
<line x1="60.7" y1="506.8" x2="66.3" y2="506.8" stroke="#000" stroke-width="1.6"/>
<text x="59.0" y="511.9" text-anchor="end" font-family="Liberation Serif, serif" font-weight="bold" font-size="18.1" letter-spacing="1.8">0.4</text>
<line x1="60.7" y1="451.2" x2="66.3" y2="451.2" stroke="#000" stroke-width="1.6"/>
<text x="59.0" y="456.3" text-anchor="end" font-family="Liberation Serif, serif" font-weight="bold" font-size="18.1" letter-spacing="1.8">0.6</text>
<line x1="60.7" y1="395.6" x2="66.3" y2="395.6" stroke="#000" stroke-width="1.6"/>
<text x="59.0" y="400.7" text-anchor="end" font-family="Liberation Serif, serif" font-weight="bold" font-size="18.1" letter-spacing="1.8">0.8</text>
<line x1="60.7" y1="340.0" x2="66.3" y2="340.0" stroke="#000" stroke-width="1.6"/>
<text x="59.0" y="345.1" text-anchor="end" font-family="Liberation Serif, serif" font-weight="bold" font-size="18.1" letter-spacing="1.8">1</text>
<line x1="66.3" y1="618.0" x2="66.3" y2="623.8" stroke="#000" stroke-width="1.6"/>
<text x="66.1" y="642.9" text-anchor="middle" font-family="Liberation Serif, serif" font-weight="bold" font-size="18.6" letter-spacing="0.9">0</text>
<line x1="136.1" y1="618.0" x2="136.1" y2="623.8" stroke="#000" stroke-width="1.6"/>
<text x="135.9" y="642.9" text-anchor="middle" font-family="Liberation Serif, serif" font-weight="bold" font-size="18.6" letter-spacing="0.9">10</text>
<line x1="205.8" y1="618.0" x2="205.8" y2="623.8" stroke="#000" stroke-width="1.6"/>
<text x="205.6" y="642.9" text-anchor="middle" font-family="Liberation Serif, serif" font-weight="bold" font-size="18.6" letter-spacing="0.9">20</text>
<line x1="275.6" y1="618.0" x2="275.6" y2="623.8" stroke="#000" stroke-width="1.6"/>
<text x="275.4" y="642.9" text-anchor="middle" font-family="Liberation Serif, serif" font-weight="bold" font-size="18.6" letter-spacing="0.9">30</text>
<line x1="345.4" y1="618.0" x2="345.4" y2="623.8" stroke="#000" stroke-width="1.6"/>
<text x="345.2" y="642.9" text-anchor="middle" font-family="Liberation Serif, serif" font-weight="bold" font-size="18.6" letter-spacing="0.9">40</text>
<line x1="415.1" y1="618.0" x2="415.1" y2="623.8" stroke="#000" stroke-width="1.6"/>
<text x="414.9" y="642.9" text-anchor="middle" font-family="Liberation Serif, serif" font-weight="bold" font-size="18.6" letter-spacing="0.9">50</text>
<line x1="484.9" y1="618.0" x2="484.9" y2="623.8" stroke="#000" stroke-width="1.6"/>
<text x="484.7" y="642.9" text-anchor="middle" font-family="Liberation Serif, serif" font-weight="bold" font-size="18.6" letter-spacing="0.9">60</text>
<polyline fill="none" stroke="#000" stroke-width="1.9" points="65.5,340.0 156.7,340.0 156.7,357.4 184.2,357.4 184.2,392.1 191.1,392.1 191.1,409.5 198.1,409.5 198.1,461.6 212.0,461.6 212.0,531.1 226.0,531.1 226.0,548.5 232.9,548.5 232.9,583.2 309.7,583.2 309.7,600.6 324.4,600.6 324.4,618.0"/>
<polyline fill="none" stroke="#000" stroke-width="1.9" points="65.5,340.0 176.8,340.0 176.8,392.1 184.2,392.1 191.1,392.1 191.1,409.5 198.1,409.5 198.1,479.0 205.0,479.0 205.0,496.4 212.0,496.4 212.0,531.1 219.0,531.1 219.0,548.5 226.0,548.5 226.0,565.9 246.9,565.9 246.9,583.2 260.8,583.2 260.8,600.6 295.7,600.6 295.7,618.0"/>
<polyline fill="none" stroke="#000" stroke-width="1.9" points="65.5,340.0 184.2,340.0 184.2,357.6 212.0,357.6 212.0,375.4 219.0,375.4 219.0,392.8 232.9,392.8 232.9,410.1 267.8,410.1 267.8,427.5 484.1,427.5"/>
<circle cx="156.7" cy="340.0" r="4.6" fill="#000"/>
<circle cx="156.7" cy="357.4" r="4.6" fill="#000"/>
<circle cx="184.2" cy="357.4" r="4.6" fill="#000"/>
<circle cx="184.2" cy="392.1" r="4.6" fill="#000"/>
<circle cx="191.1" cy="392.1" r="4.6" fill="#000"/>
<circle cx="191.1" cy="409.5" r="4.6" fill="#000"/>
<circle cx="198.1" cy="409.5" r="4.6" fill="#000"/>
<circle cx="198.1" cy="461.6" r="4.6" fill="#000"/>
<circle cx="212.0" cy="461.6" r="4.6" fill="#000"/>
<circle cx="212.0" cy="531.1" r="4.6" fill="#000"/>
<circle cx="226.0" cy="531.1" r="4.6" fill="#000"/>
<circle cx="226.0" cy="548.5" r="4.6" fill="#000"/>
<circle cx="232.9" cy="548.5" r="4.6" fill="#000"/>
<circle cx="232.9" cy="583.2" r="4.6" fill="#000"/>
<circle cx="309.7" cy="583.2" r="4.6" fill="#000"/>
<circle cx="309.7" cy="600.6" r="4.6" fill="#000"/>
<circle cx="324.4" cy="600.6" r="4.6" fill="#000"/>
<circle cx="324.4" cy="618.0" r="4.6" fill="#000"/>
<polygon points="176.8,334.8 182.0,344.1 171.6,344.1" fill="#000"/>
<polygon points="176.8,386.9 182.0,396.2 171.6,396.2" fill="#000"/>
<polygon points="184.2,386.9 189.4,396.2 179.0,396.2" fill="#000"/>
<polygon points="191.1,386.9 196.3,396.2 185.9,396.2" fill="#000"/>
<polygon points="191.1,404.3 196.3,413.6 185.9,413.6" fill="#000"/>
<polygon points="198.1,404.3 203.3,413.6 192.9,413.6" fill="#000"/>
<polygon points="198.1,473.8 203.3,483.1 192.9,483.1" fill="#000"/>
<polygon points="205.0,473.8 210.2,483.1 199.8,483.1" fill="#000"/>
<polygon points="205.0,491.2 210.2,500.5 199.8,500.5" fill="#000"/>
<polygon points="212.0,491.2 217.2,500.5 206.8,500.5" fill="#000"/>
<polygon points="212.0,525.9 217.2,535.2 206.8,535.2" fill="#000"/>
<polygon points="219.0,525.9 224.2,535.2 213.8,535.2" fill="#000"/>
<polygon points="219.0,543.3 224.2,552.6 213.8,552.6" fill="#000"/>
<polygon points="226.0,543.3 231.2,552.6 220.8,552.6" fill="#000"/>
<polygon points="226.0,560.7 231.2,570.0 220.8,570.0" fill="#000"/>
<polygon points="246.9,560.7 252.1,570.0 241.7,570.0" fill="#000"/>
<polygon points="246.9,578.0 252.1,587.4 241.7,587.4" fill="#000"/>
<polygon points="260.8,578.0 266.0,587.4 255.6,587.4" fill="#000"/>
<polygon points="260.8,595.4 266.0,604.7 255.6,604.7" fill="#000"/>
<polygon points="295.7,595.4 300.9,604.7 290.5,604.7" fill="#000"/>
<polygon points="295.7,612.8 300.9,622.1 290.5,622.1" fill="#000"/>
<rect x="60.8" y="335.4" width="9.4" height="9.2" fill="#000"/>
<rect x="180.2" y="335.4" width="9.4" height="9.2" fill="#000"/>
<rect x="180.2" y="353.0" width="9.4" height="9.2" fill="#000"/>
<rect x="207.3" y="353.0" width="9.4" height="9.2" fill="#000"/>
<rect x="207.3" y="370.8" width="9.4" height="9.2" fill="#000"/>
<rect x="214.3" y="370.8" width="9.4" height="9.2" fill="#000"/>
<rect x="214.3" y="388.2" width="9.4" height="9.2" fill="#000"/>
<rect x="228.2" y="388.2" width="9.4" height="9.2" fill="#000"/>
<rect x="228.2" y="405.5" width="9.4" height="9.2" fill="#000"/>
<rect x="263.1" y="405.5" width="9.4" height="9.2" fill="#000"/>
<rect x="263.1" y="422.9" width="9.4" height="9.2" fill="#000"/>
<rect x="479.4" y="422.9" width="9.4" height="9.2" fill="#000"/>
</g>
<text x="199.0" y="665.2" font-family="Liberation Serif, serif" font-weight="bold" font-size="17.3" textLength="155.2" lengthAdjust="spacingAndGlyphs">Days After Transfer</text>
<text transform="translate(13.0,562.1) rotate(-90)" font-family="Liberation Serif, serif" font-weight="bold" font-size="17.1" textLength="80.8" lengthAdjust="spacingAndGlyphs">Proportion</text>
<text transform="translate(13.0,472.3) rotate(-90)" font-family="Liberation Serif, serif" font-weight="bold" font-size="17.1" textLength="76.5" lengthAdjust="spacingAndGlyphs">Surviving</text>
<line x1="298.6" y1="472.1" x2="338" y2="472.1" stroke="#000" stroke-width="1.9"/>
<circle cx="318.7" cy="472.1" r="4.6" fill="#000"/>
<text x="349.6" y="478.3" font-family="Liberation Serif, serif" font-weight="bold" font-size="18" word-spacing="4" textLength="98.8" lengthAdjust="spacingAndGlyphs">Sort Control</text>
<line x1="298.6" y1="501.6" x2="338" y2="501.6" stroke="#000" stroke-width="1.9"/>
<rect x="314.0" y="497.0" width="9.4" height="9.2" fill="#000"/>
<text x="349.6" y="507.9" font-family="Liberation Serif, serif" font-weight="bold" font-size="18">CFSE+</text>
<line x1="298.6" y1="531.2" x2="338" y2="531.2" stroke="#000" stroke-width="1.9"/>
<polygon points="318.7,526.0 323.9,535.3 313.5,535.3" fill="#000"/>
<text x="349.6" y="537.3" font-family="Liberation Serif, serif" font-weight="bold" font-size="18">CFSE-</text>
</svg>
</body></html>
